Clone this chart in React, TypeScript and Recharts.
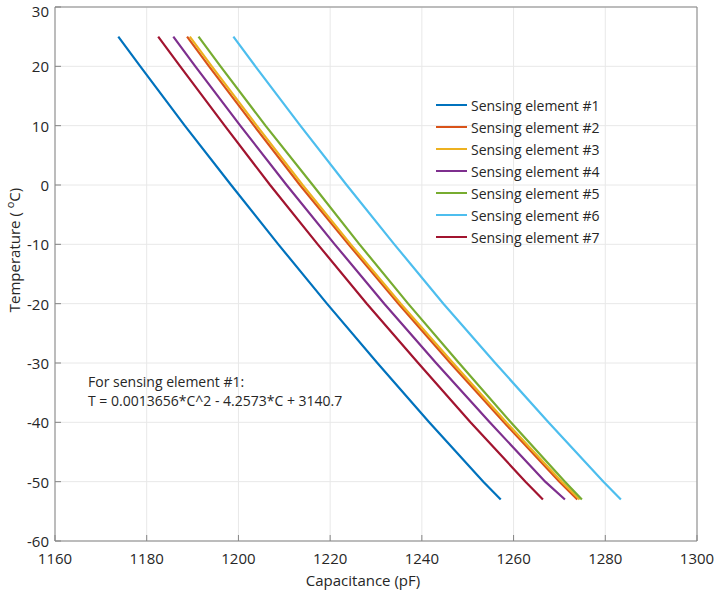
import React from "react";
import { LineChart, Line, XAxis, YAxis, CartesianGrid, ReferenceLine, Legend } from "recharts";

const temps = [25, 20, 10, 0, -10, -20, -30, -40, -50, -53];
const cap1 = [1173.8, 1178.6, 1188.3, 1198.4, 1208.7, 1219.3, 1230.3, 1241.6, 1253.4, 1257.2];
const cap2 = [1188.8, 1193.6, 1203.4, 1213.4, 1224.0, 1234.9, 1246.2, 1257.9, 1270.0, 1273.9];
const cap3 = [1189.4, 1194.2, 1204.0, 1214.0, 1224.5, 1235.4, 1246.8, 1258.4, 1270.5, 1274.4];
const cap4 = [1185.8, 1190.6, 1200.4, 1210.5, 1221.0, 1231.8, 1243.1, 1254.8, 1266.9, 1271.2];
const cap5 = [1191.3, 1196.1, 1205.9, 1216.2, 1226.4, 1237.0, 1248.1, 1259.4, 1271.2, 1274.9];
const cap6 = [1198.9, 1203.7, 1213.5, 1223.6, 1234.0, 1244.7, 1256.0, 1267.6, 1279.6, 1283.4];
const cap7 = [1182.5, 1187.3, 1197.0, 1206.9, 1217.3, 1228.0, 1239.2, 1250.6, 1262.6, 1266.4];

const seriesNames = [
  "Sensing element #1",
  "Sensing element #2",
  "Sensing element #3",
  "Sensing element #4",
  "Sensing element #5",
  "Sensing element #6",
  "Sensing element #7",
];
const seriesCaps = [cap1, cap2, cap3, cap4, cap5, cap6, cap7];
const colors = ["#0072BD", "#D95319", "#EDB120", "#7E2F8E", "#77AC30", "#4DBEEE", "#A2142F"];

const xTicks = [1160, 1180, 1200, 1220, 1240, 1260, 1280, 1300];
const yTicks = [-60, -50, -40, -30, -20, -10, 0, 10, 20, 30];

const FONT = "'Open Sans', 'Noto Sans', sans-serif";
const TEXT = "#262626";
const AXIS = "#858585";

const XTick = (props: any) => {
  const { x, y, payload } = props;
  return (
    <g>
      <line x1={x} y1={y} x2={x} y2={y - 6} stroke={AXIS} strokeWidth={1} />
      <text x={x} y={y + 17} textAnchor="middle" dominantBaseline="central" fontSize={15} fill={TEXT} fontFamily={FONT}>
        {payload.value}
      </text>
    </g>
  );
};

const YTick = (props: any) => {
  const { x, y, payload } = props;
  const ty = Math.max(y, 11);
  return (
    <g>
      <line x1={x} y1={y} x2={x + 6} y2={y} stroke={AXIS} strokeWidth={1} />
      <text x={x - 6} y={ty} textAnchor="end" dominantBaseline="central" fontSize={15} fill={TEXT} fontFamily={FONT}>
        {payload.value}
      </text>
    </g>
  );
};

const LegendContent = () => (
  <div style={{ fontFamily: FONT, fontSize: 14, color: TEXT }}>
    {seriesNames.map((n, i) => (
      <div key={n} style={{ display: "flex", alignItems: "center", height: 22 }}>
        <div style={{ width: 31, height: 2, background: colors[i], marginRight: 4 }} />
        <span style={{ whiteSpace: "nowrap" }}>{n}</span>
      </div>
    ))}
  </div>
);

export default function App() {
  return (
    <div style={{ position: "absolute", left: 0, top: 0, width: 714, height: 593, background: "#fff" }}>
      <LineChart width={714} height={593} margin={{ top: 7, right: 17, left: 0, bottom: 0 }}>
        <CartesianGrid stroke="#e8e8e8" strokeWidth={1} horizontalValues={yTicks} verticalValues={xTicks} />
        <XAxis
          type="number"
          dataKey="c"
          domain={[1160, 1300]}
          ticks={xTicks}
          allowDataOverflow
          height={52}
          tickSize={0}
          tickMargin={0}
          tickLine={false}
          tick={<XTick />}
          axisLine={{ stroke: AXIS }}
          interval={0}
        />
        <YAxis
          type="number"
          dataKey="t"
          domain={[-60, 30]}
          ticks={yTicks}
          allowDataOverflow
          width={55}
          tickSize={0}
          tickMargin={0}
          tickLine={false}
          tick={<YTick />}
          axisLine={{ stroke: AXIS }}
          interval={0}
        />
        <ReferenceLine x={1300} stroke={AXIS} strokeWidth={1} />
        <ReferenceLine y={30} stroke={AXIS} strokeWidth={1} />
        {seriesCaps.map((caps, i) => (
          <Line
            key={seriesNames[i]}
            name={seriesNames[i]}
            data={temps.map((t, j) => ({ c: caps[j], t }))}
            dataKey="t"
            type="linear"
            stroke={colors[i]}
            strokeWidth={2.2}
            dot={false}
            activeDot={false}
            isAnimationActive={false}
          />
        ))}
        <Legend
          layout="vertical"
          align="center"
          verticalAlign="middle"
          content={<LegendContent />}
          wrapperStyle={{ left: 436, top: 94, width: 200, height: 160 }}
        />
      </LineChart>
      <div
        style={{
          position: "absolute",
          left: 363,
          top: 580,
          transform: "translate(-50%, -50%)",
          fontFamily: FONT,
          fontSize: 15,
          color: TEXT,
          whiteSpace: "nowrap",
        }}
      >
        Capacitance (pF)
      </div>
      <div
        style={{
          position: "absolute",
          left: 13,
          top: 250,
          transform: "translate(-50%, -50%) rotate(-90deg)",
          fontFamily: FONT,
          fontSize: 15,
          color: TEXT,
          whiteSpace: "nowrap",
        }}
      >
        Temperature (&nbsp;<sup style={{ fontSize: 11 }}>o</sup>C)
      </div>
      <div
        style={{
          position: "absolute",
          left: 88,
          top: 372,
          fontFamily: FONT,
          fontSize: 14,
          lineHeight: "19px",
          color: TEXT,
          whiteSpace: "nowrap",
        }}
      >
        For sensing element #1:
        <br />
        T = 0.0013656*C^2 - 4.2573*C + 3140.7
      </div>
    </div>
  );
}
